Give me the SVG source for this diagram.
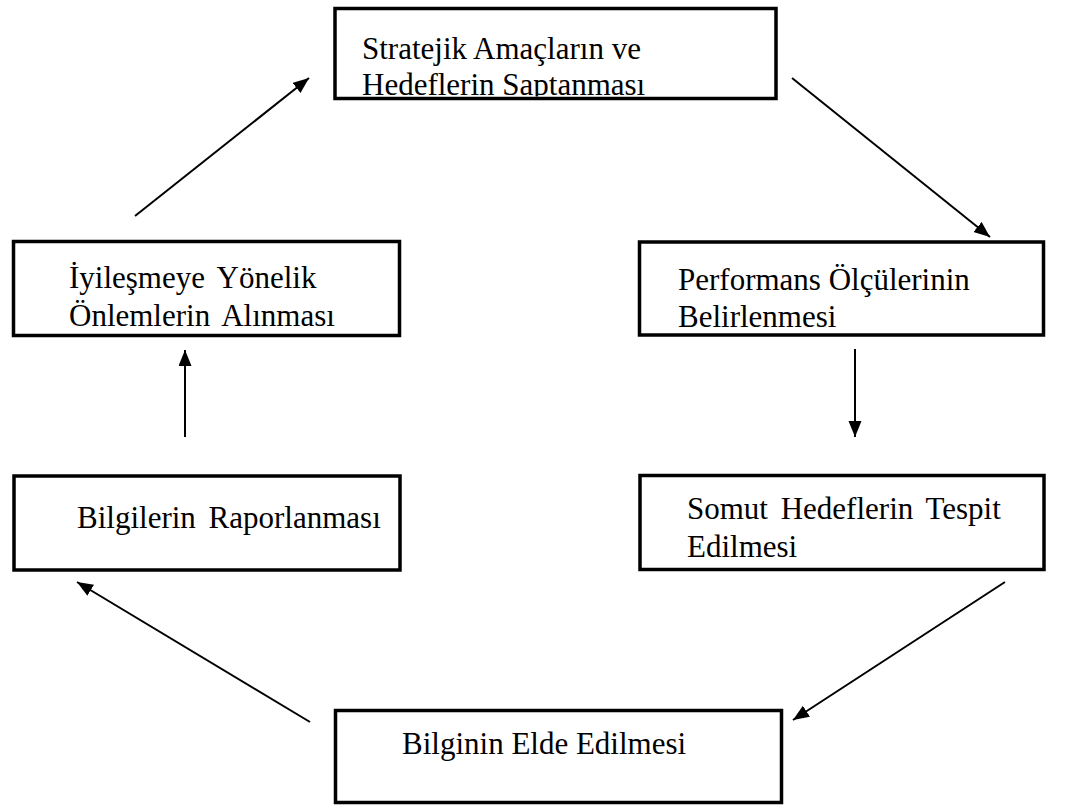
<svg xmlns="http://www.w3.org/2000/svg" width="1086" height="807" viewBox="0 0 1086 807">
  <style>
    .box { fill: #ffffff; stroke: #000000; stroke-width: 3.5; }
    .label { font-family: "Liberation Serif", "Times New Roman", serif; font-size: 31px; fill: #000000; }
    .wide { word-spacing: 5px; }
    .flow { stroke: #000000; stroke-width: 2; fill: none; marker-end: url(#head); }
  </style>
  <defs>
    <marker id="head" markerUnits="userSpaceOnUse" markerWidth="18" markerHeight="14" refX="16" refY="6.5" orient="auto">
      <path d="M0,0 L16,6.5 L0,13 z" fill="#000000"/>
    </marker>
    <!-- the second line of the top box runs into its lower edge and is cut there -->
    <clipPath id="clip-top">
      <rect x="337" y="10" width="437" height="86.5"/>
    </clipPath>
  </defs>
  <rect width="1086" height="807" fill="#ffffff"/>

  <g id="node-stratejik">
    <rect class="box" x="335" y="8.5" width="441" height="90"/>
    <g clip-path="url(#clip-top)">
      <text class="label" x="362" y="59">Stratejik Amaçların ve</text>
      <text class="label" x="362" y="95">Hedeflerin Saptanması</text>
    </g>
  </g>

  <g id="node-performans">
    <rect class="box" x="639.5" y="242" width="404" height="93"/>
    <text class="label" x="678" y="290">Performans Ölçülerinin</text>
    <text class="label" x="678" y="327">Belirlenmesi</text>
  </g>

  <g id="node-somut">
    <rect class="box" x="640" y="475.5" width="404" height="94"/>
    <text class="label wide" x="687" y="519">Somut Hedeflerin Tespit</text>
    <text class="label" x="687" y="557">Edilmesi</text>
  </g>

  <g id="node-bilginin">
    <rect class="box" x="335.5" y="710.5" width="446" height="92"/>
    <text class="label" x="402" y="754">Bilginin Elde Edilmesi</text>
  </g>

  <g id="node-raporlanmasi">
    <rect class="box" x="14" y="476" width="386" height="94"/>
    <text class="label wide" x="77" y="528">Bilgilerin Raporlanması</text>
  </g>

  <g id="node-iyilesme">
    <rect class="box" x="13.5" y="241.5" width="386" height="94"/>
    <text class="label wide" x="69" y="288">İyileşmeye Yönelik</text>
    <text class="label wide" x="69" y="326">Önlemlerin Alınması</text>
  </g>

  <g id="connectors">
    <line class="flow" x1="792" y1="78" x2="990" y2="237"/>
    <line class="flow" x1="855" y1="349" x2="855" y2="437"/>
    <line class="flow" x1="1005" y1="582" x2="793" y2="720"/>
    <line class="flow" x1="310" y1="722" x2="77" y2="582"/>
    <line class="flow" x1="185" y1="437" x2="185" y2="350"/>
    <line class="flow" x1="135" y1="216" x2="309" y2="78"/>
  </g>
</svg>
